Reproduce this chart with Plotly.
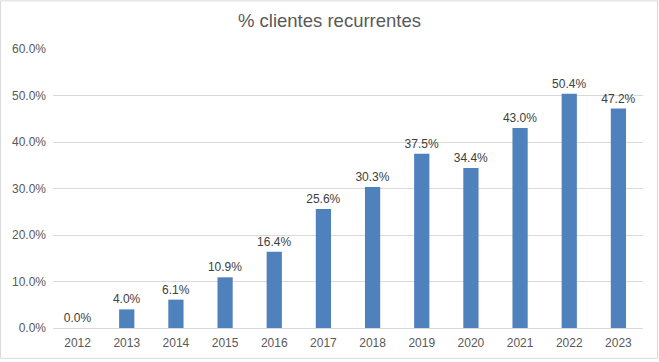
import plotly.graph_objects as go

years = ["2012", "2013", "2014", "2015", "2016", "2017", "2018", "2019", "2020", "2021", "2022", "2023"]
pct = [0.0, 4.0, 6.1, 10.9, 16.4, 25.6, 30.3, 37.5, 34.4, 43.0, 50.4, 47.2]
tick_vals = [0, 10, 20, 30, 40, 50, 60]

W, H = 659, 362
L, R, T, B = 53, 16, 49, 32
pw, ph = W - L - R, H - T - B

fig = go.Figure(go.Bar(
    x=years, y=[v / 100 for v in pct],
    marker=dict(color="#4F81BD", line=dict(width=0)),
    texttemplate="%{y:.1%}", textposition="outside", constraintext="none",
    textfont=dict(family="Liberation Sans, Arial", size=12, color="#404040"),
    cliponaxis=False,
))

def px(x):
    return (x - L) / pw

def py(y):
    return (H - B - y) / ph

fig.add_shape(type="rect", xref="paper", yref="paper",
              x0=px(0.5), x1=px(W - 1.5), y0=py(H - 1.5), y1=py(0.5),
              line=dict(color="#D9D9D9", width=1), layer="below")

fig.update_layout(
    width=W, height=H,
    margin=dict(l=L, r=R, t=T, b=B),
    paper_bgcolor="white", plot_bgcolor="white",
    bargap=0.69,
    showlegend=False,
    title=dict(text="% clientes recurrentes", x=0.5, xref="container", xanchor="center",
               y=1 - 21 / H, yanchor="middle",
               font=dict(family="Liberation Sans, Arial", size=18.5, color="#595959")),
    font=dict(family="Liberation Sans, Arial", size=12, color="#595959"),
    xaxis=dict(showgrid=False, showline=True, linecolor="#D9D9D9", ticks="",
               ticklabelstandoff=4, tickfont=dict(size=12, color="#595959")),
    yaxis=dict(range=[0, 0.6], tickvals=[v / 100 for v in tick_vals], tickformat=".1%",
               showgrid=True, gridcolor="#D9D9D9", zeroline=False, showline=False,
               ticks="", ticklen=0, ticklabelstandoff=6,
               tickfont=dict(size=12, color="#595959")),
)

fig.write_html("out.html", config={"displayModeBar": False},
               post_script="document.body.style.margin='0';")
